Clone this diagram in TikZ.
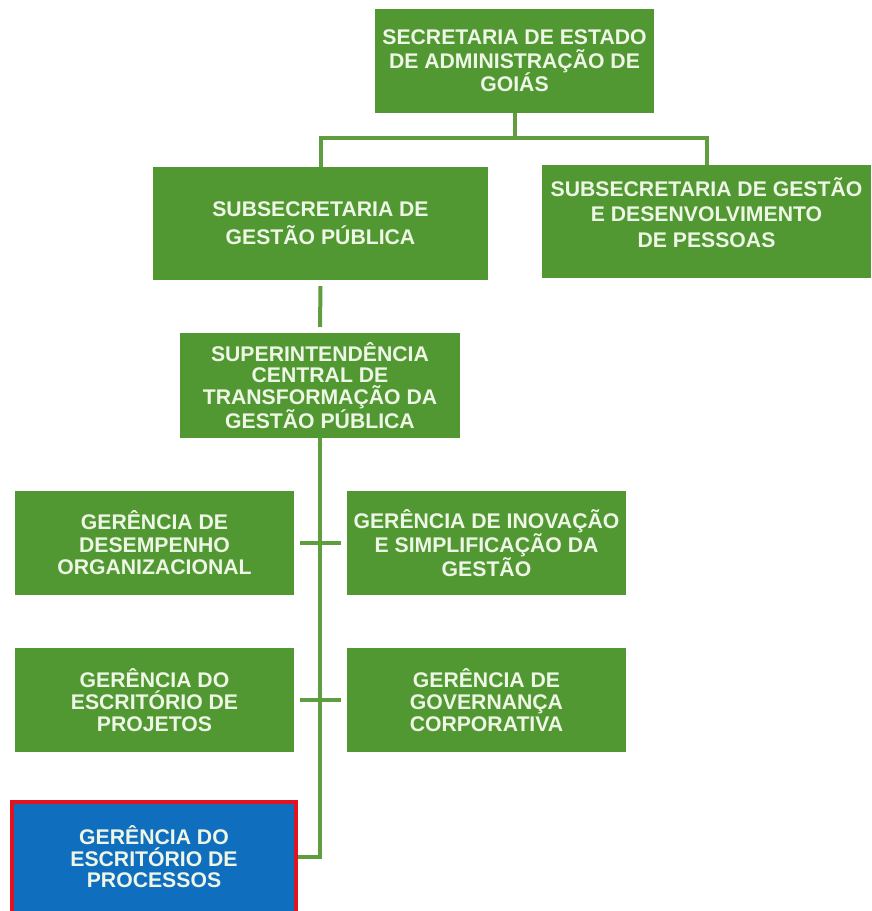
\documentclass[tikz,border=0pt]{standalone}
\usepackage{fontspec}
\setmainfont{Liberation Sans}
\definecolor{boxgreen}{HTML}{529832}
\definecolor{linegreen}{HTML}{5E9E3E}
\definecolor{txtwhite}{HTML}{EEF6E6}
\definecolor{procblue}{HTML}{106EBE}
\definecolor{procred}{HTML}{E0141E}
\tikzset{
  orgbox/.style={rectangle, fill=boxgreen, draw=none, align=center, inner sep=0pt,
    text=txtwhite},
  conn/.style={draw=linegreen, line width=4pt},
  procbox/.style={orgbox, fill=procblue, draw=procred, line width=4pt}
}
\newcommand{\bxfont}[1]{\fontsize{21.2}{#1}\selectfont\bfseries}
\begin{document}
\begin{tikzpicture}[x=1pt,y=-1pt]
\useasboundingbox (0,0) rectangle (872,911);
% boxes
\node[orgbox, minimum width=279pt, minimum height=104pt, font=\bxfont{23.5}] (top) at (514.5,61)
  {SECRETARIA DE ESTADO\\DE ADMINISTRAÇÃO  DE\\GOIÁS};
\node[orgbox, minimum width=335pt, minimum height=113pt, font=\bxfont{28}] (sub1) at (320.5,223.5)
  {SUBSECRETARIA DE\\GESTÃO PÚBLICA};
\node[orgbox, minimum width=329pt, minimum height=113pt, font=\bxfont{25.5}] (sub2) at (706.5,221.5)
  {SUBSECRETARIA DE GESTÃO\\E DESENVOLVIMENTO\\DE PESSOAS\\[-7pt]\mbox{}};
\node[orgbox, minimum width=280pt, minimum height=105pt, font=\bxfont{21.7}] (sup) at (320,385.5)
  {SUPERINTENDÊNCIA\\CENTRAL DE\\TRANSFORMAÇÃO  DA\\GESTÃO PÚBLICA};
\node[orgbox, minimum width=279pt, minimum height=104pt, font=\bxfont{22.5}] (g1) at (154.5,543)
  {GERÊNCIA DE\\DESEMPENHO\\ORGANIZACIONAL};
\node[orgbox, minimum width=279pt, minimum height=104pt, font=\bxfont{22.5}] (g2) at (486.5,543)
  {GERÊNCIA DE INOVAÇÃO\\E SIMPLIFICAÇÃO  DA\\GESTÃO};
\node[orgbox, minimum width=279pt, minimum height=104pt, font=\bxfont{22}] (g3) at (154.5,700)
  {GERÊNCIA DO\\ESCRITÓRIO DE\\PROJETOS};
\node[orgbox, minimum width=279pt, minimum height=104pt, font=\bxfont{22}] (g4) at (486.5,700)
  {GERÊNCIA DE\\GOVERNANÇA\\CORPORATIVA};
\node[procbox, minimum width=284pt, minimum height=114pt, font=\bxfont{21.7}] (proc) at (154,859)
  {GERÊNCIA DO\\ESCRITÓRIO DE\\PROCESSOS\\[-16.7pt]\mbox{}};
% connectors
\coordinate (j1) at (514.5,138);
\draw[conn] (top.south) -- (j1);
\draw[conn] (sub1.north) |- (j1) -| (sub2.north);
\draw[conn, shorten <=6pt, shorten >=6pt] (sub1.south) -- (sup.north);
\coordinate (j2) at (320,857);
\draw[conn] (sup.south) -- (j2) -- (proc.east |- j2);
\draw[conn, shorten <=6pt, shorten >=6pt] (g1.east) -- (g2.west);
\draw[conn, shorten <=6pt, shorten >=6pt] (g3.east) -- (g4.west);
\end{tikzpicture}
\end{document}
